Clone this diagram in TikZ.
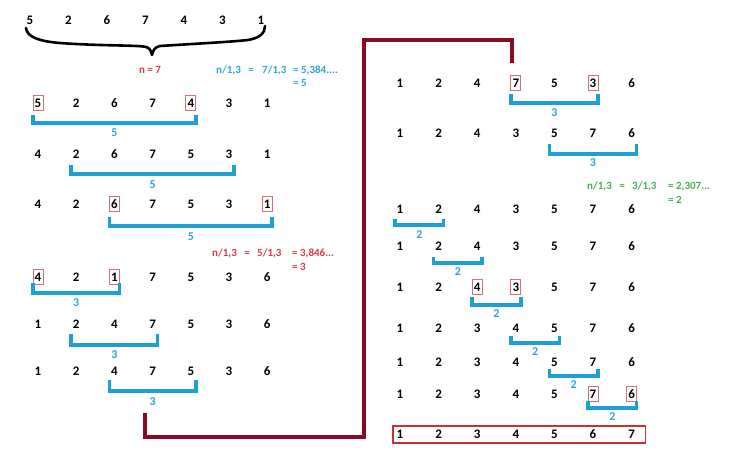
\documentclass[tikz,border=0pt]{standalone}
\usepackage{fontspec}
\setmainfont{Carlito}
\usetikzlibrary{calc}
\definecolor{brkblue}{RGB}{30,160,215}
\definecolor{labblue}{RGB}{45,165,215}
\definecolor{txtred}{RGB}{215,60,70}
\definecolor{txtgreen}{RGB}{70,175,80}
\definecolor{boxred}{RGB}{205,115,120}
\definecolor{bigred}{RGB}{200,50,55}
\definecolor{maroonc}{RGB}{135,12,32}
\tikzset{
  num/.style={font=\fontsize{13}{13}\selectfont\bfseries, inner sep=0pt, text=black},
  lab/.style={font=\fontsize{12}{12}\selectfont\bfseries, inner sep=0pt, text=labblue},
  frm/.style={font=\fontsize{11}{11}\selectfont\bfseries, inner sep=0pt, anchor=base west},
  frmc/.style={font=\fontsize{11}{11}\selectfont\bfseries, inner sep=0pt, anchor=base},
  brk/.style={draw=brkblue, line width=3.5pt, line join=miter},
  mbox/.style={draw=boxred, line width=0.9pt},
  bigbox/.style={draw=bigred, line width=1.6pt},
  conn/.style={draw=maroonc, line width=4.5pt, line join=miter},
  brace/.style={draw=black, line width=2.6pt, line cap=round, line join=round}
}
\newcommand\numrow[5]{%
  \foreach \v [count=\i] in {#5} {\node[num] (#1-\i) at ({#2+(\i-1)*#3}, #4) {\v};}}
\newcommand\bracketmark[7]{%
  \draw[brk] ($(#1-#2)+(-5,#4)$) -- ($(#1-#2)+(-5,#5-2)$) -- ($(#1-#3)+(5,#5-2)$) -- ($(#1-#3)+(5,#4)$);
  \node[lab] (#1-lab) at ($(#1-#2)!0.5!(#1-#3)+(0,#6)$) {#7};}
\newcommand\markbox[1]{\draw[mbox] ($(#1)+(-5,-7.5)$) rectangle ($(#1)+(5,7)$);}
\begin{document}
\begin{tikzpicture}[x=1pt,y=-1pt]
\useasboundingbox (0,0) rectangle (737,472);
% top row and brace
\numrow{T}{30}{38.5}{20}{5,2,6,7,4,3,1}
\draw[brace] (26,28) .. controls (27,36) and (36,41) .. (60,43)
  .. controls (100,46) and (140,45) .. (146,47)
  .. controls (150,48) and (151,51) .. (152,55)
  .. controls (153,50) and (155,47) .. (160,46)
  .. controls (190,44) and (230,42) .. (248,40)
  .. controls (260,38) and (265,33) .. (265,26);
\node[font=\fontsize{11}{11}\selectfont\bfseries, text=txtred, inner sep=0pt] (n7) at (150,70) {n = 7};
% blue formula
\node[frm, text=labblue] (bf1) at (216,73) {n/1,3};
\node[frmc, text=labblue] (bf2) at (251,73) {=};
\node[frm, text=labblue] (bf3) at (262,73) {7/1,3};
\node[frm, text=labblue] (bf4) at (293,73) {= 5,384....};
\node[frm, text=labblue] (bf5) at (293,86) {= 5};
% left rows
\numrow{L1}{38}{38.2}{103}{5,2,6,7,4,3,1}
\markbox{L1-1}\markbox{L1-5}
\bracketmark{L1}{1}{5}{12}{22}{30}{5}
\numrow{L2}{38}{38.2}{154}{4,2,6,7,5,3,1}
\bracketmark{L2}{2}{6}{11}{22}{31}{5}
\numrow{L3}{38}{38.2}{204}{4,2,6,7,5,3,1}
\markbox{L3-3}\markbox{L3-7}
\bracketmark{L3}{3}{7}{13}{24}{33}{5}
% red formula
\node[frm, text=txtred] (rf1) at (212,256) {n/1,3};
\node[frmc, text=txtred] (rf2) at (247,256) {=};
\node[frm, text=txtred] (rf3) at (257,256) {5/1,3};
\node[frm, text=txtred] (rf4) at (292,256) {= 3,846...};
\node[frm, text=txtred] (rf5) at (292,270) {= 3};
\numrow{L4}{38}{38.2}{277}{4,2,1,7,5,3,6}
\markbox{L4-1}\markbox{L4-3}
\bracketmark{L4}{1}{3}{6}{18}{26}{3}
\numrow{L5}{38}{38.2}{324}{1,2,4,7,5,3,6}
\bracketmark{L5}{2}{4}{10}{23}{31}{3}
\numrow{L6}{38}{38.2}{371}{1,2,4,7,5,3,6}
\bracketmark{L6}{3}{5}{9}{22}{31}{3}
% connector
\coordinate (mStart) at (145,413);
\coordinate (mC1) at (364,437);
\coordinate (mC2) at (512,40);
\coordinate (mEnd) at (512,63);
\draw[conn] (mStart) |- (mC1) |- (mC2) -- (mEnd);
% right rows
\numrow{R1}{400}{38.6}{83}{1,2,4,7,5,3,6}
\markbox{R1-4}\markbox{R1-6}
\bracketmark{R1}{4}{6}{11}{22}{30}{3}
\numrow{R2}{400}{38.6}{133}{1,2,4,3,5,7,6}
\bracketmark{R2}{5}{7}{11}{23}{30}{3}
% green formula
\node[frm, text=txtgreen] (gf1) at (587,189) {n/1,3};
\node[frmc, text=txtgreen] (gf2) at (622,189) {=};
\node[frm, text=txtgreen] (gf3) at (632,189) {3/1,3};
\node[frm, text=txtgreen] (gf4) at (668,189) {= 2,307...};
\node[frm, text=txtgreen] (gf5) at (668,203) {= 2};
\numrow{R3}{400}{38.6}{209}{1,2,4,3,5,7,6}
\bracketmark{R3}{1}{2}{10}{18}{26}{2}
\numrow{R4}{400}{38.6}{246}{1,2,4,3,5,7,6}
\bracketmark{R4}{2}{3}{11}{19}{26}{2}
\numrow{R5}{400}{38.6}{287}{1,2,4,3,5,7,6}
\markbox{R5-3}\markbox{R5-4}
\bracketmark{R5}{3}{4}{10}{20}{27}{2}
\numrow{R6}{400}{38.6}{328}{1,2,3,4,5,7,6}
\bracketmark{R6}{4}{5}{8}{17}{24}{2}
\numrow{R7}{400}{38.6}{362}{1,2,3,4,5,7,6}
\bracketmark{R7}{5}{6}{7}{16}{23}{2}
\numrow{R8}{400}{38.6}{394}{1,2,3,4,5,7,6}
\markbox{R8-6}\markbox{R8-7}
\bracketmark{R8}{6}{7}{7}{16}{23}{2}
\numrow{R9}{400}{38.6}{434}{1,2,3,4,5,6,7}
\draw[bigbox] ($(R9-1)+(-7,-8)$) rectangle ($(R9-7)+(14,9)$);
\end{tikzpicture}
\end{document}
